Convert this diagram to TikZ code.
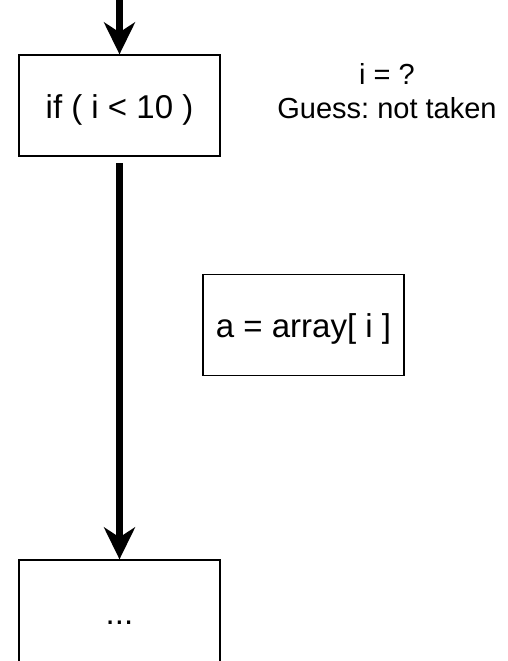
\documentclass[tikz,border=0pt]{standalone}
\usepackage{fontspec}
\setmainfont{Liberation Sans}
\frenchspacing
\usetikzlibrary{arrows.meta}
\begin{document}
\begin{tikzpicture}[x=1pt,y=-1pt,
  block/.style={draw=black,line width=1.3pt,fill=white,inner sep=0pt,
    minimum width=201pt,minimum height=101pt,font=\fontsize{33}{40}\selectfont},
  lowtext/.style={text height=32pt,text depth=7pt},
  flow/.style={line width=7pt,-{Stealth[length=32pt,width=31pt,inset=10pt]}},
  caption/.style={align=center,font=\fontsize{29}{34}\selectfont}]
  \clip (0,0) rectangle (507,661);
  \node[block,lowtext] (cond) at (119.5,105.5) {if ( i < 10 )};
  \node[block,lowtext] (load) at (303.5,325) {a = array[ i ]};
  \node[block,minimum height=126pt] (next) at (119.5,623) {...};
  \node[caption] (note) at (387,91) {i = ?\\Guess: not taken};
  \coordinate (entry) at (119.5,0);
  \coordinate (exit) at (119.5,163);
  \draw[flow] (entry) -- (cond.north);
  \draw[flow] (exit) -- (next.north);
\end{tikzpicture}
\end{document}
